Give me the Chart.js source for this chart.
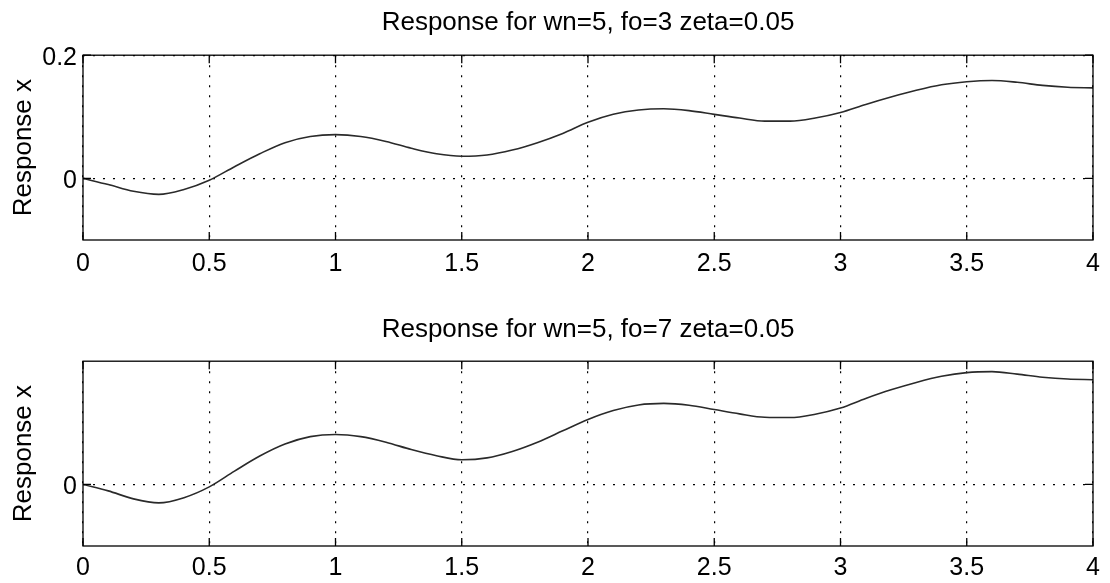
<!DOCTYPE html>
<html>
<head>
<meta charset="utf-8">
<script src="https://cdn.jsdelivr.net/npm/chart.js@4/dist/chart.umd.min.js"></script>
<style>
  html, body { margin: 0; padding: 0; background: #fff; }
  body { width: 1110px; height: 583px; position: relative; overflow: hidden; }
  canvas { position: absolute; left: 0; }
  #c1 { top: 0; }
  #c2 { top: 291px; }
</style>
</head>
<body>
<canvas id="c1" width="1110" height="291"></canvas>
<canvas id="c2" width="1110" height="292"></canvas>
<script>
// ---- data ----
const times = [0, 0.1, 0.2, 0.3, 0.4, 0.5, 0.6, 0.7, 0.8, 0.9,
               1.0, 1.1, 1.2, 1.3, 1.4, 1.5, 1.6, 1.7, 1.8, 1.9,
               2.0, 2.1, 2.2, 2.3, 2.4, 2.5, 2.6, 2.7, 2.8, 2.9,
               3.0, 3.1, 3.2, 3.3, 3.4, 3.5, 3.6, 3.7, 3.8, 3.9, 4.0];
const responseFo3 = [0, -0.010, -0.021, -0.026, -0.018, -0.003, 0.019, 0.040, 0.058, 0.068,
                     0.071, 0.068, 0.060, 0.049, 0.040, 0.036, 0.038, 0.046, 0.058, 0.073,
                     0.091, 0.104, 0.111, 0.113, 0.110, 0.104, 0.098, 0.093, 0.093, 0.098,
                     0.107, 0.120, 0.132, 0.143, 0.152, 0.157, 0.159, 0.156, 0.151, 0.148, 0.147];
const responseFo7 = [0, -0.021, -0.047, -0.060, -0.043, -0.008, 0.043, 0.092, 0.131, 0.155,
                     0.162, 0.155, 0.137, 0.113, 0.093, 0.080, 0.086, 0.107, 0.137, 0.174,
                     0.211, 0.240, 0.258, 0.263, 0.257, 0.243, 0.229, 0.218, 0.217, 0.228,
                     0.248, 0.279, 0.307, 0.331, 0.351, 0.363, 0.366, 0.358, 0.348, 0.342, 0.340];
const xTicks = [0, 0.5, 1, 1.5, 2, 2.5, 3, 3.5, 4];
const yTicksTop = [0, 0.2];
const yTicksBottom = [0];
const titleTop = 'Response for wn=5, fo=3 zeta=0.05';
const titleBottom = 'Response for wn=5, fo=7 zeta=0.05';
const yLabel = 'Response x';

const FONT = '"Liberation Sans", Arial, Helvetica, sans-serif';

const boxPlugin = {
  id: 'matlabBox',
  afterDatasetsDraw(chart) {
    const {ctx, chartArea: a, scales} = chart;
    ctx.save();
    ctx.strokeStyle = '#000';
    ctx.lineWidth = 1.3;
    ctx.setLineDash([]);
    ctx.strokeRect(a.left, a.top, a.right - a.left, a.bottom - a.top);
    const L = 8;
    ctx.beginPath();
    scales.x.ticks.forEach(t => {
      const px = scales.x.getPixelForValue(t.value);
      ctx.moveTo(px, a.bottom); ctx.lineTo(px, a.bottom - L);
      ctx.moveTo(px, a.top); ctx.lineTo(px, a.top + L);
    });
    scales.y.ticks.forEach(t => {
      const py = scales.y.getPixelForValue(t.value);
      ctx.moveTo(a.left, py); ctx.lineTo(a.left + L, py);
      ctx.moveTo(a.right, py); ctx.lineTo(a.right - L, py);
    });
    ctx.stroke();
    ctx.restore();
  }
};

function makeChart(id, values, title, yMin, yMax, yTicks, titlePad, xHeight, xPad) {
  return new Chart(document.getElementById(id), {
    type: 'line',
    data: {
      datasets: [{
        data: times.map((t, i) => ({x: t, y: values[i]})),
        borderColor: '#2a2a2a',
        borderWidth: 1.6,
        pointRadius: 0,
        cubicInterpolationMode: 'monotone',
        fill: false
      }]
    },
    options: {
      responsive: false,
      animation: false,
      devicePixelRatio: 1,
      layout: { padding: { left: 0, right: 17, top: 0, bottom: 0 } },
      plugins: {
        legend: { display: false },
        tooltip: { enabled: false },
        title: {
          display: true,
          fullSize: false,
          text: title,
          color: '#000',
          font: { family: FONT, size: 26, weight: 'normal', lineHeight: 1.2 },
          padding: titlePad
        }
      },
      scales: {
        x: {
          type: 'linear',
          min: 0, max: 4,
          afterBuildTicks: s => { s.ticks = xTicks.map(v => ({value: v})); },
          afterFit: s => { s.height = xHeight; },
          grid: { color: '#000', lineWidth: 1.2, drawTicks: false },
          border: { display: false, dash: [2, 8] },
          ticks: { color: '#000', padding: xPad, maxRotation: 0,
                   callback: v => String(v),
                   font: { family: FONT, size: 25 } }
        },
        y: {
          type: 'linear',
          min: yMin, max: yMax,
          afterBuildTicks: s => { s.ticks = yTicks.map(v => ({value: v})); },
          afterFit: s => { s.width = 83; },
          grid: { color: '#000', lineWidth: 1.2, drawTicks: false },
          border: { display: false, dash: [2, 8] },
          ticks: { color: '#000', padding: 6, labelOffset: 3,
                   callback: v => String(v),
                   font: { family: FONT, size: 25 } },
          title: {
            display: true, text: yLabel, color: '#000',
            font: { family: FONT, size: 26, lineHeight: 1.2 },
            padding: { top: 8, bottom: 0 }
          }
        }
      }
    },
    plugins: [boxPlugin]
  });
}

makeChart('c1', responseFo3, titleTop, -0.1, 0.2, yTicksTop, {top: 7, bottom: 17}, 51, 9);
makeChart('c2', responseFo7, titleBottom, -0.2, 0.4, yTicksBottom, {top: 23, bottom: 16}, 37, 7);
</script>
</body>
</html>
